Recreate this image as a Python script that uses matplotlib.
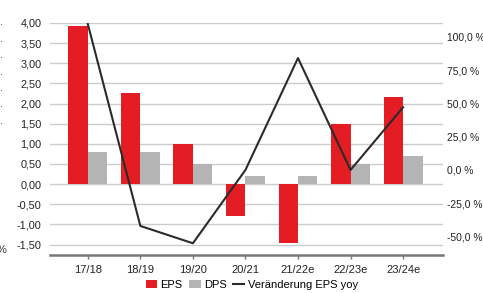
import matplotlib.pyplot as plt
import numpy as np

plt.rcParams['font.family'] = ['Liberation Sans', 'DejaVu Sans']

jahre = ['17/18', '18/19', '19/20', '20/21', '21/22e', '22/23e', '23/24e']
eps = [3.93, 2.26, 1.00, -0.80, -1.47, 1.49, 2.16]
dps = [0.80, 0.80, 0.50, 0.20, 0.20, 0.50, 0.70]
eps_yoy = [109.5, -42.0, -55.0, 0.0, 84.0, 0.0, 47.0]

rot = '#e31d23'
grau = '#b4b4b4'

fig = plt.figure(figsize=(4.83, 2.93), dpi=100)
ax = fig.add_axes([50/483, 1-255/293, 393/483, 232/293])
ax2 = ax.twinx()

x = np.arange(len(jahre))
w = 0.37
ax.bar(x - w/2, eps, w, color=rot, label='EPS', zorder=3)
ax.bar(x + w/2, dps, w, color=grau, label='DPS', zorder=3)
ax2.plot(x, eps_yoy, color='#2b2b2b', lw=1.5, label='Veränderung EPS yoy')

ax.set_xlim(-0.72, 6.76)
ax.set_ylim(-1.76, 4.0)
ax.set_yticks(np.arange(-1.5, 4.01, 0.5))
ax.set_yticklabels([f'{v:.2f}'.replace('.', ',') for v in np.arange(-1.5, 4.01, 0.5)])
ax.yaxis.grid(True, color='#cccccc', lw=1, zorder=0)
ax.set_xticks(x)
ax.set_xticklabels(jahre)

ax2.set_ylim(-63.8, 110.3)
ax2.set_yticks([-50, -25, 0, 25, 50, 75, 100])
ax2.set_yticklabels([f'{v:.1f} %'.replace('.', ',') for v in [-50, -25, 0, 25, 50, 75, 100]])

for a in (ax, ax2):
    for s in ['top', 'left', 'right', 'bottom']:
        a.spines[s].set_visible(False)
    a.tick_params(axis='y', length=0, labelsize=7.8, colors='#222222')
ax2.tick_params(axis='y', labelsize=7.4)
ax.spines['bottom'].set_visible(True)
ax.spines['bottom'].set_color('#777777')
ax.spines['bottom'].set_linewidth(1.8)
ax.tick_params(axis='x', length=3, width=1, color='#777777', labelsize=8, colors='#222222', pad=4)
ax.tick_params(axis='y', pad=6)
ax2.tick_params(axis='y', pad=3)

h1, l1 = ax.get_legend_handles_labels()
h2, l2 = ax2.get_legend_handles_labels()
fig.legend(h1 + h2, l1 + l2, loc='center', bbox_to_anchor=(252/483, 1-285/293), ncol=3,
           frameon=False, fontsize=8, handlelength=1.0, handleheight=0.8,
           handletextpad=0.3, columnspacing=0.6)

# angeschnittene Reste am linken Rand
for yy in [22, 39, 55, 72, 88, 104, 121]:
    fig.text(0.0, 1-yy/293, '.', fontsize=8, va='center', ha='left', color='#333333')
fig.text(-0.008, 1-250/293, '%', fontsize=8, va='center', ha='left', color='#333333')

fig.savefig('out.png', dpi=100)
